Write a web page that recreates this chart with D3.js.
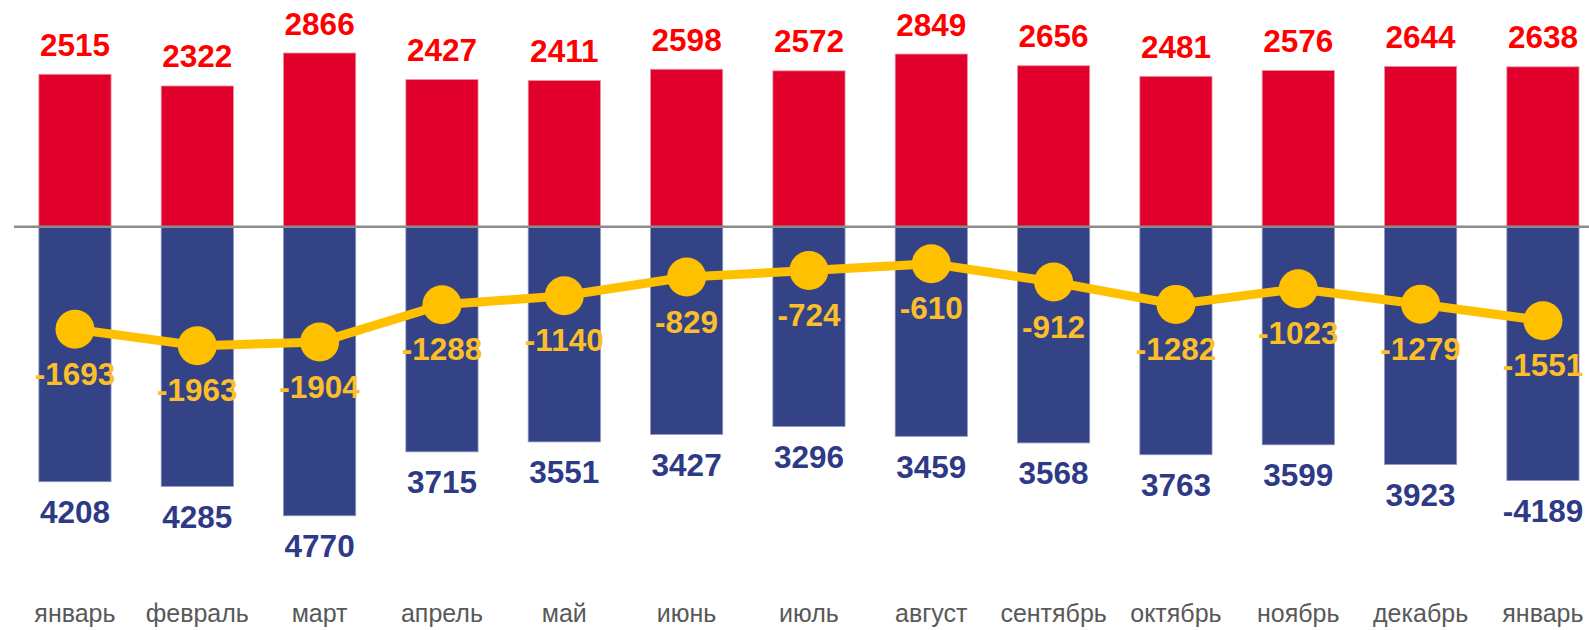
<!DOCTYPE html>
<html>
<head>
<meta charset="utf-8">
<script src="https://cdn.jsdelivr.net/npm/d3@7"></script>
<style>
  html, body { margin: 0; padding: 0; background: #fff; }
  svg { display: block; font-family: "Liberation Sans", Arial, sans-serif; }
</style>
</head>
<body>
<div id="chart"></div>
<script>
// month labels
const months = ["январь","февраль","март","апрель","май","июнь","июль","август","сентябрь","октябрь","ноябрь","декабрь","январь"];
// births (red, up)
const births = [2515, 2322, 2866, 2427, 2411, 2598, 2572, 2849, 2656, 2481, 2576, 2644, 2638];
// deaths (blue, down)
const deaths = [4208, 4285, 4770, 3715, 3551, 3427, 3296, 3459, 3568, 3763, 3599, 3923, 4189];
// labels under the blue bars, as printed (last one carries a minus)
const deathLabels = ["4208","4285","4770","3715","3551","3427","3296","3459","3568","3763","3599","3923","-4189"];
// natural change (yellow line)
const natural = [-1693, -1963, -1904, -1288, -1140, -829, -724, -610, -912, -1282, -1023, -1279, -1551];

const RED = "#e0002b";
const BLUE = "#344386";
const YELLOW = "#ffc000";

const width = 1589, height = 630;

const svg = d3.select("#chart").append("svg")
  .attr("width", width)
  .attr("height", height);

const x = d3.scaleBand()
  .domain(d3.range(months.length))
  .range([13.8, 1604.1])
  .paddingInner(0.41)
  .paddingOuter(0.205);

// 0 at y=226.7, ~0.0606 px per unit
const y = d3.scaleLinear()
  .domain([-5000, 3500])
  .range([226.7 + 5000 * 0.0606, 226.7 - 3500 * 0.0606]);

const cx = i => x(i) + x.bandwidth() / 2;

// red bars
svg.append("g").selectAll("rect")
  .data(births)
  .join("rect")
  .attr("x", (d, i) => x(i))
  .attr("y", d => y(d))
  .attr("width", x.bandwidth())
  .attr("height", d => y(0) - y(d))
  .attr("fill", RED)
  .attr("stroke", "#ec8fa0")
  .attr("stroke-width", 0.8);

// blue bars
svg.append("g").selectAll("rect")
  .data(deaths)
  .join("rect")
  .attr("x", (d, i) => x(i))
  .attr("y", y(0))
  .attr("width", x.bandwidth())
  .attr("height", d => y(-d) - y(0))
  .attr("fill", BLUE)
  .attr("stroke", "#8d96c0")
  .attr("stroke-width", 0.8);

// zero line
svg.append("line")
  .attr("x1", 14).attr("x2", width)
  .attr("y1", y(0)).attr("y2", y(0))
  .attr("stroke", "#8c8c8c")
  .attr("stroke-width", 2.5);

// natural change line
const line = d3.line()
  .x((d, i) => cx(i))
  .y(d => y(d));

svg.append("path")
  .datum(natural)
  .attr("d", line)
  .attr("fill", "none")
  .attr("stroke", YELLOW)
  .attr("stroke-width", 9)
  .attr("stroke-linejoin", "round");

svg.append("g").selectAll("circle")
  .data(natural)
  .join("circle")
  .attr("cx", (d, i) => cx(i))
  .attr("cy", d => y(d))
  .attr("r", 19.5)
  .attr("fill", YELLOW);

// value labels
const LABEL_SIZE = 31.5;

svg.append("g").selectAll("text")
  .data(births)
  .join("text")
  .attr("x", (d, i) => cx(i))
  .attr("y", d => y(d) - 18.5)
  .attr("text-anchor", "middle")
  .attr("font-size", LABEL_SIZE)
  .attr("font-weight", "bold")
  .attr("fill", "#ff0000")
  .text(d => d);

svg.append("g").selectAll("text")
  .data(deaths)
  .join("text")
  .attr("x", (d, i) => cx(i))
  .attr("y", d => y(-d) + 41.5)
  .attr("text-anchor", "middle")
  .attr("font-size", LABEL_SIZE)
  .attr("font-weight", "bold")
  .attr("fill", "#2e3a86")
  .text((d, i) => deathLabels[i]);

svg.append("g").selectAll("text")
  .data(natural)
  .join("text")
  .attr("x", (d, i) => cx(i))
  .attr("y", d => y(d) + 55.6)
  .attr("text-anchor", "middle")
  .attr("font-size", LABEL_SIZE)
  .attr("font-weight", "bold")
  .attr("fill", "#fbbf2a")
  .text(d => d);

// month labels
svg.append("g").selectAll("text")
  .data(months)
  .join("text")
  .attr("x", (d, i) => cx(i))
  .attr("y", 622)
  .attr("text-anchor", "middle")
  .attr("font-size", 25)
  .attr("fill", "#595959")
  .text(d => d);
</script>
</body>
</html>
